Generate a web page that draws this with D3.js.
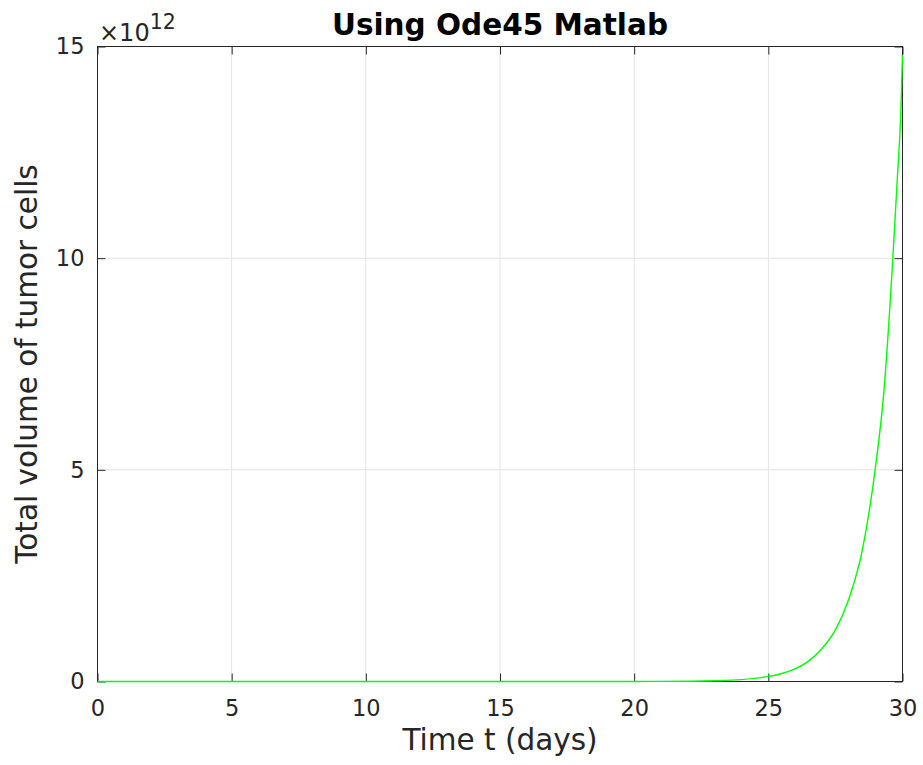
<!DOCTYPE html>
<html>
<head>
<meta charset="utf-8">
<script src="https://cdn.jsdelivr.net/npm/d3@7"></script>
<style>
  body { margin: 0; background: #fff; }
  text { font-family: "DejaVu Sans", sans-serif; fill: #262626; }
</style>
</head>
<body>
<div id="chart"></div>
<script>
// data (volume in units of 1e12)
let timeDays = [0, 5, 10, 15, 20, 22, 23, 24, 25, 25.5, 26, 26.5, 27, 27.5, 28, 28.5, 29, 29.3, 29.64, 29.8, 29.94, 30];
let volume   = [0, 0, 0, 0, 0.001, 0.007, 0.017, 0.045, 0.12, 0.19, 0.30, 0.48, 0.78, 1.22, 1.95, 3.1, 5.1, 6.8, 10.0, 11.8, 13.5, 14.8];
let xTicks = [0, 5, 10, 15, 20, 25, 30];
let yTicks = [0, 5, 10, 15];

let data = timeDays.map((t, i) => ({t: t, v: volume[i]}));

let margin = {top: 46.5, right: 20.5, bottom: 83.5, left: 97.5};
let width = 923 - margin.left - margin.right;
let height = 765 - margin.top - margin.bottom;

let svg = d3.select("#chart")
            .append("svg")
            .attr("width", 923)
            .attr("height", 765)
            .append("g")
            .attr("transform", "translate(" + margin.left + "," + margin.top + ")");

let x = d3.scaleLinear().domain([0, 30]).range([0, width]);
let y = d3.scaleLinear().domain([0, 15]).range([height, 0]);

// grid
svg.append("g").selectAll("line")
    .data(xTicks.slice(1, -1))
    .enter().append("line")
    .attr("x1", d => x(d)).attr("x2", d => x(d))
    .attr("y1", 0).attr("y2", height)
    .attr("stroke", "#e3e3e3");
svg.append("g").selectAll("line")
    .data(yTicks.slice(1, -1))
    .enter().append("line")
    .attr("y1", d => y(d)).attr("y2", d => y(d))
    .attr("x1", 0).attr("x2", width)
    .attr("stroke", "#e3e3e3");

// axes, ticks inward, box on
let axisColor = "#262626";
function styleAxis(g) {
    g.select(".domain").remove();
    g.selectAll(".tick line").attr("stroke", axisColor);
    g.selectAll(".tick text").attr("fill", axisColor).style("font-size", "22.5px").style("font-family", "DejaVu Sans");
}
svg.append("g")
    .attr("transform", "translate(0," + height + ")")
    .call(d3.axisBottom(x).tickValues(xTicks).tickSizeInner(-8).tickSizeOuter(0).tickPadding(19))
    .call(styleAxis);
svg.append("g")
    .call(d3.axisLeft(y).tickValues(yTicks).tickSizeInner(-8).tickSizeOuter(0).tickPadding(13))
    .call(styleAxis);
svg.append("g")
    .call(d3.axisTop(x).tickValues(xTicks).tickSizeInner(-8).tickSizeOuter(0).tickFormat(""))
    .call(styleAxis);
svg.append("g")
    .attr("transform", "translate(" + width + ",0)")
    .call(d3.axisRight(y).tickValues(yTicks).tickSizeInner(-8).tickSizeOuter(0).tickFormat(""))
    .call(styleAxis);
svg.append("rect")
    .attr("width", width).attr("height", height)
    .attr("fill", "none").attr("stroke", axisColor).attr("stroke-width", 1);

// curve
svg.append("path")
    .datum(data)
    .attr("fill", "none")
    .attr("stroke", "#00ff00")
    .attr("stroke-width", 1.4)
    .attr("d", d3.line().x(d => x(d.t)).y(d => y(d.v)).curve(d3.curveMonotoneX));

// exponent label
let expo = svg.append("text")
    .attr("x", 1.5).attr("y", -5.5)
    .style("font-size", "24px");
expo.append("tspan").text("\u00d710");
expo.append("tspan").attr("dy", -12).style("font-size", "20.5px").text("12");

// title
svg.append("text")
    .attr("x", width / 2).attr("y", -11.5)
    .style("text-anchor", "middle")
    .style("font-size", "29.5px").style("font-weight", "bold")
    .style("fill", "#000")
    .text("Using Ode45 Matlab");

// x label
svg.append("text")
    .attr("x", width / 2).attr("y", height + 68)
    .style("text-anchor", "middle")
    .style("font-size", "29.5px")
    .text("Time t (days)");

// y label
svg.append("text")
    .attr("transform", "translate(-61," + (height / 2) + ") rotate(-90)")
    .style("text-anchor", "middle")
    .style("font-size", "29.5px")
    .text("Total volume of tumor cells");
</script>
</body>
</html>
